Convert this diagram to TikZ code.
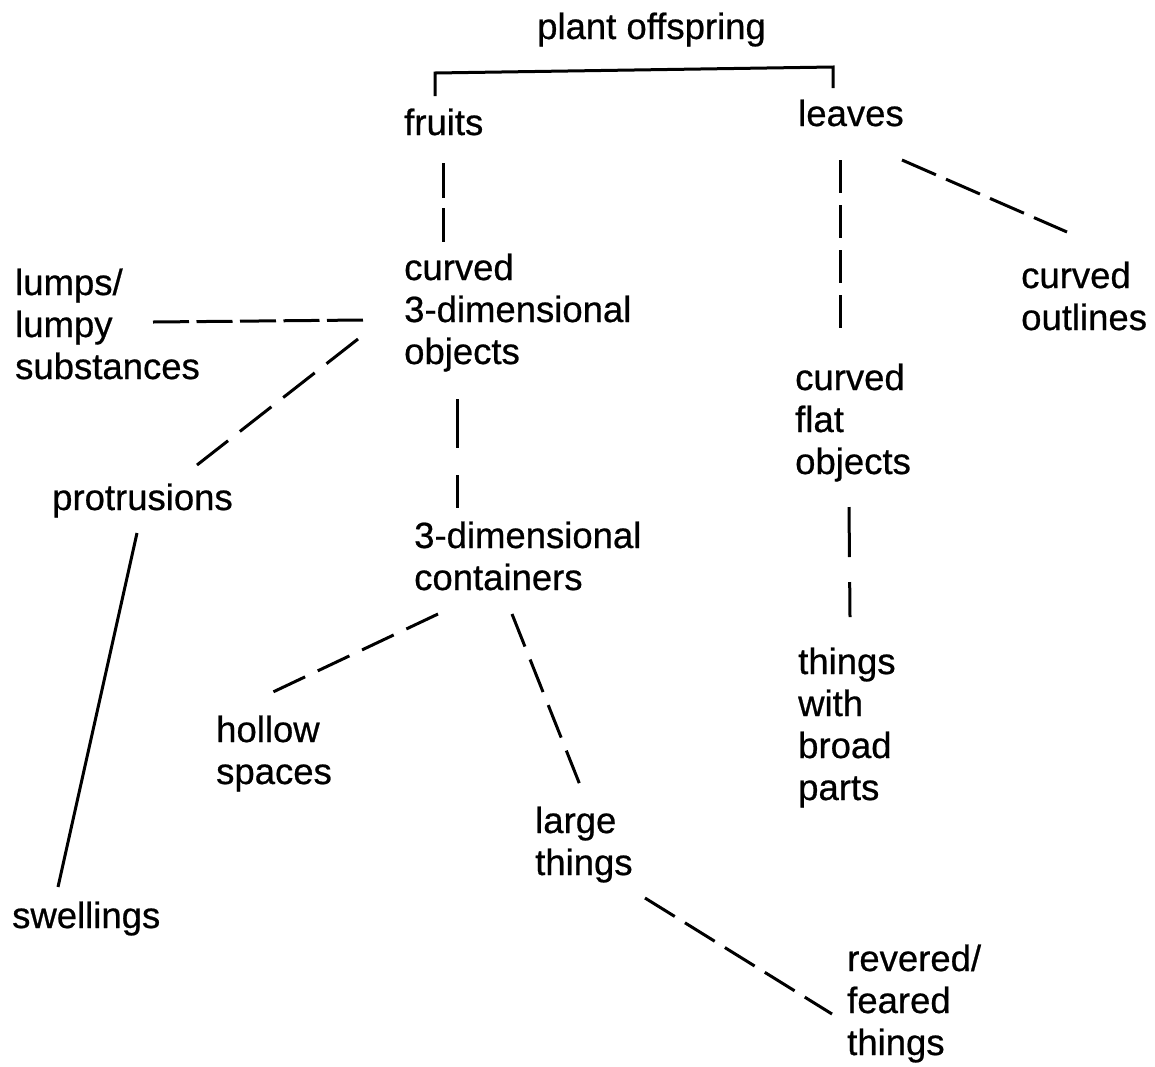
\documentclass[tikz,border=0pt]{standalone}
\usepackage{fontspec}
\setmainfont[FakeBold=0.6]{Liberation Sans}
\begin{document}
\begin{tikzpicture}[x=1pt,y=-1pt,
  lbl/.style={anchor=base west,inner sep=0pt,align=left,font=\fontsize{36.5}{42}\selectfont},
  link/.style={line width=3pt,black}]
\path[use as bounding box,fill=white] (0,0) rectangle (1155,1066);
% texts (anchor = baseline of last line)
\node[lbl] (po) at (537,39) {plant offspring};
\node[lbl] (fr) at (404,135) {fruits};
\node[lbl] (le) at (798,126) {leaves};
\node[lbl] (c3) at (404,364) {curved\\3-dimensional\\objects};
\node[lbl] (lu) at (15,379) {lumps/\\lumpy\\substances};
\node[lbl] (pr) at (52,510) {protrusions};
\node[lbl] (sw) at (12,928) {swellings};
\node[lbl] (dc) at (414,590) {3-dimensional\\containers};
\node[lbl] (ho) at (216,784) {hollow\\spaces};
\node[lbl] (lg) at (535,875) {large\\things};
\node[lbl] (rv) at (847,1055) {revered/\\feared\\things};
\node[lbl] (co) at (1021,330) {curved\\outlines};
\node[lbl] (cf) at (795,474) {curved\\flat\\objects};
\node[lbl] (tb) at (798,800) {things\\with\\broad\\parts};
% connector end points
\coordinate (b1) at (435,96);
\coordinate (b2) at (435,73);
\coordinate (b3) at (833,67);
\coordinate (b4) at (833,88);
\coordinate (f1) at (443,163);
\coordinate (f2) at (443,242);
\coordinate (l1) at (840,160);
\coordinate (l2) at (840,329);
\coordinate (o1) at (902,160);
\coordinate (o2) at (1067,232);
\coordinate (u1) at (153,322);
\coordinate (u2) at (363,320);
\coordinate (p1) at (358,339);
\coordinate (p2) at (197,465);
\coordinate (s1) at (137,533);
\coordinate (s2) at (58,887);
\coordinate (d1) at (457,399);
\coordinate (d2) at (457,508);
\coordinate (h1) at (438,614);
\coordinate (h2) at (273,692);
\coordinate (g1) at (512,614);
\coordinate (g2) at (580,785);
\coordinate (r1) at (645,898);
\coordinate (r2) at (832,1014);
\coordinate (t1) at (849,507);
\coordinate (t2) at (850,617);
% connectors
\draw[link] (b1) -- (b2) -- (b3) -- (b4);
\draw[link,dash pattern=on 35pt off 10pt] (f1) -- (f2);
\draw[link,dash pattern=on 33pt off 12pt] (l1) -- (l2);
\draw[link,dash pattern=on 37pt off 11pt] (o1) -- (o2);
\draw[link,dash pattern=on 36pt off 7.5pt] (u1) -- (u2);
\draw[link,dash pattern=on 40pt off 15pt] (p1) -- (p2);
\draw[link] (s1) -- (s2);
\draw[link,dash pattern=on 49pt off 27pt] (d1) -- (d2);
\draw[link,dash pattern=on 35pt off 14pt] (h1) -- (h2);
\draw[link,dash pattern=on 35pt off 14pt] (g1) -- (g2);
\draw[link,dash pattern=on 35pt off 12pt] (r1) -- (r2);
\draw[link,dash pattern=on 50pt off 25pt] (t1) -- (t2);
\end{tikzpicture}
\end{document}
